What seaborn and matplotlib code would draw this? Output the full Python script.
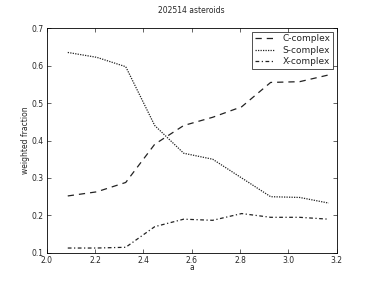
import numpy as np
import pandas as pd
import matplotlib
matplotlib.use("Agg")
import matplotlib.pyplot as plt
import seaborn as sns

# semi-major axis bin centres
a_bins = [2.087, 2.207, 2.327, 2.447, 2.567, 2.687, 2.807, 2.927, 3.047, 3.167]
c_complex = [0.252, 0.263, 0.288, 0.390, 0.440, 0.462, 0.490, 0.555, 0.557, 0.575]
s_complex = [0.635, 0.622, 0.597, 0.440, 0.366, 0.350, 0.300, 0.250, 0.248, 0.233]
x_complex = [0.113, 0.113, 0.115, 0.170, 0.190, 0.187, 0.205, 0.195, 0.195, 0.190]
labels = ["C-complex", "S-complex", "X-complex"]

df = pd.DataFrame({"a": a_bins * 3,
                   "frac": c_complex + s_complex + x_complex,
                   "cls": np.repeat(labels, len(a_bins))})

sns.set_style("white")
plt.rcParams['font.family'] = ['DejaVu Sans']
plt.rcParams['xtick.direction'] = 'in'
plt.rcParams['ytick.direction'] = 'in'

fig, ax = plt.subplots(figsize=(3.74, 2.81), dpi=100)
fig.subplots_adjust(left=0.125, right=0.9, bottom=0.1, top=0.9)

styles = {"C-complex": (5, 4), "S-complex": (1, 1), "X-complex": (3, 2, 1, 2)}
sns.lineplot(data=df, x="a", y="frac", hue="cls", style="cls",
             palette=["#222222"] * 3, dashes=styles, linewidth=0.9, ax=ax)

ax.set_xlim(2.0, 3.2)
ax.set_ylim(0.1, 0.7)
ax.set_xticks(np.arange(2.0, 3.21, 0.2))
ax.set_yticks(np.arange(0.1, 0.71, 0.1))
ax.tick_params(axis='both', labelsize=5.5, length=3, width=0.5, pad=2,
               top=True, right=True, bottom=True, left=True)
ax.set_xlabel("a", fontsize=5.5, labelpad=-1)
ax.set_ylabel("weighted fraction", fontsize=5.5, labelpad=1)
ax.set_title("202514 asteroids", fontsize=5.5, pad=11)
for s in ax.spines.values():
    s.set_linewidth(0.6)
    s.set_color("black")

leg = ax.legend(loc="upper right", fontsize=6.5, frameon=True, fancybox=False,
                handlelength=2.2, borderpad=0.3, labelspacing=0.25,
                borderaxespad=0.4)
leg.get_frame().set_edgecolor("black")
leg.get_frame().set_linewidth(0.6)

fig.savefig("out.png", dpi=100)
